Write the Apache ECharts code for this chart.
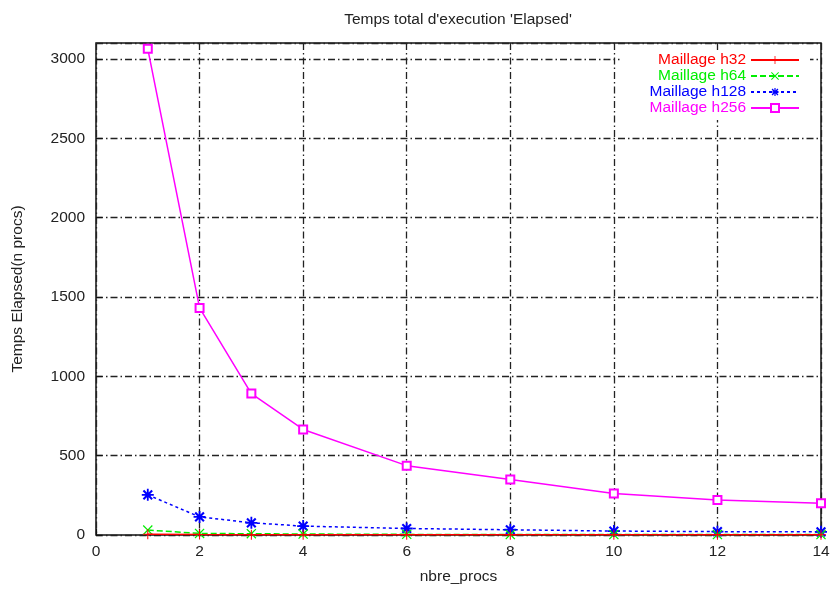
<!DOCTYPE html>
<html>
<head>
<meta charset="utf-8">
<script src="https://cdn.jsdelivr.net/npm/echarts@6/dist/echarts.min.js"></script>
<style>html,body{margin:0;padding:0;background:#fff}#c{width:840px;height:590px}</style>
</head>
<body>
<div id="c"></div>
<script>
const procs = [1, 2, 3, 4, 6, 8, 10, 12, 14];
const h32 = [5, 3, 2, 2, 1, 1, 1, 1, 1];
const h64 = [31, 10, 8, 6, 4, 3, 3, 3, 3];
const h128 = [253, 114, 77, 56, 41, 33, 25, 21, 20];
const h256 = [3063, 1431, 891, 665, 437, 349, 261, 221, 200];
const seriesNames = ['Maillage h32', 'Maillage h64', 'Maillage h128', 'Maillage h256'];
const xTicks = [0, 2, 4, 6, 8, 10, 12, 14];
const yTicks = [0, 500, 1000, 1500, 2000, 2500, 3000];

const colors = ['#ff0000', '#00ee00', '#0000ff', '#ff00ff'];
const plus = 'path://M-1,-10 L1,-10 L1,-1 L10,-1 L10,1 L1,1 L1,10 L-1,10 L-1,1 L-10,1 L-10,-1 L-1,-1 Z';
const cross = 'path://M-8.5,-7 L-7,-8.5 L0,-1.5 L7,-8.5 L8.5,-7 L1.5,0 L8.5,7 L7,8.5 L0,1.5 L-7,8.5 L-8.5,7 L-1.5,0 Z';
const star = 'path://M-1.5,-10 L1.5,-10 L1.5,-4 L6,-8.5 L8.5,-6 L4,-1.5 L10,-1.5 L10,1.5 L4,1.5 L8.5,6 L6,8.5 L1.5,4 L1.5,10 L-1.5,10 L-1.5,4 L-6,8.5 L-8.5,6 L-4,1.5 L-10,1.5 L-10,-1.5 L-4,-1.5 L-8.5,-6 L-6,-8.5 L-1.5,-4 Z';
const symbols = [plus, cross, star, 'emptyRect'];
const sizes = [10, 10, 12, 8];
const dashes = ['solid', [6, 3], [3, 3], 'solid'];
const allData = [h32, h64, h128, h256];

const series = allData.map((vals, i) => ({
  name: seriesNames[i],
  type: 'line',
  data: procs.map((p, j) => [p, vals[j]]),
  symbol: symbols[i],
  symbolSize: sizes[i],
  showAllSymbol: true,
  color: colors[i],
  lineStyle: { color: colors[i], width: 1.5, type: dashes[i] },
  itemStyle: i === 3 ? { color: colors[i], borderWidth: 1.1 } : { color: colors[i], borderWidth: 0 },
  z: 10 - i,
  animation: false
}));

const gridDash = { color: '#222', width: 1.3, type: [7, 3, 1.5, 3] };
const font = 'Liberation Sans, Arial, sans-serif';
const fs = 15.5;

const chart = echarts.init(document.getElementById('c'), null, { renderer: 'canvas' });
chart.setOption({
  animation: false,
  backgroundColor: '#fff',
  title: {
    text: "Temps total d'execution 'Elapsed'",
    left: 453, top: 7, textAlign: 'center',
    textStyle: { fontFamily: font, fontSize: fs, fontWeight: 'normal', color: '#222' }
  },
  legend: {
    orient: 'vertical', right: 30, top: 50,
    padding: [2, 10, 4, 30], backgroundColor: '#fff',
    align: 'right', itemWidth: 48, itemHeight: 10, itemGap: 0,
    textStyle: { fontFamily: font, fontSize: fs, lineHeight: 16 },
    data: seriesNames.map((n, i) => ({ name: n, textStyle: { color: colors[i] } }))
  },
  grid: { left: 96, right: 19, top: 43, bottom: 53, show: true, borderColor: '#111', borderWidth: 1.5, backgroundColor: 'transparent' },
  xAxis: {
    type: 'value', min: xTicks[0], max: xTicks[xTicks.length - 1], interval: 2,
    name: 'nbre_procs', nameLocation: 'middle', nameGap: 34,
    nameTextStyle: { fontFamily: font, fontSize: fs, color: '#222' },
    axisLine: { show: false },
    axisTick: { show: true, inside: true, length: 6, lineStyle: { color: '#111', width: 1.2 } },
    axisLabel: { fontFamily: font, fontSize: fs, color: '#222', margin: 9 },
    splitLine: { show: true, lineStyle: gridDash }
  },
  yAxis: {
    type: 'value', min: yTicks[0], max: 3100, interval: 500,
    name: 'Temps Elapsed(n procs)', nameLocation: 'middle', nameGap: 70, nameRotate: 90,
    nameTextStyle: { fontFamily: font, fontSize: fs, color: '#222' },
    axisLine: { show: false },
    axisTick: { show: true, inside: true, length: 6, lineStyle: { color: '#111', width: 1.2 } },
    axisLabel: { fontFamily: font, fontSize: fs, color: '#222', margin: 11, showMaxLabel: false,
      formatter: v => (yTicks.indexOf(v) >= 0 ? String(v) : '') },
    splitLine: { show: true, lineStyle: gridDash }
  },
  series: series
});
</script>
</body>
</html>
